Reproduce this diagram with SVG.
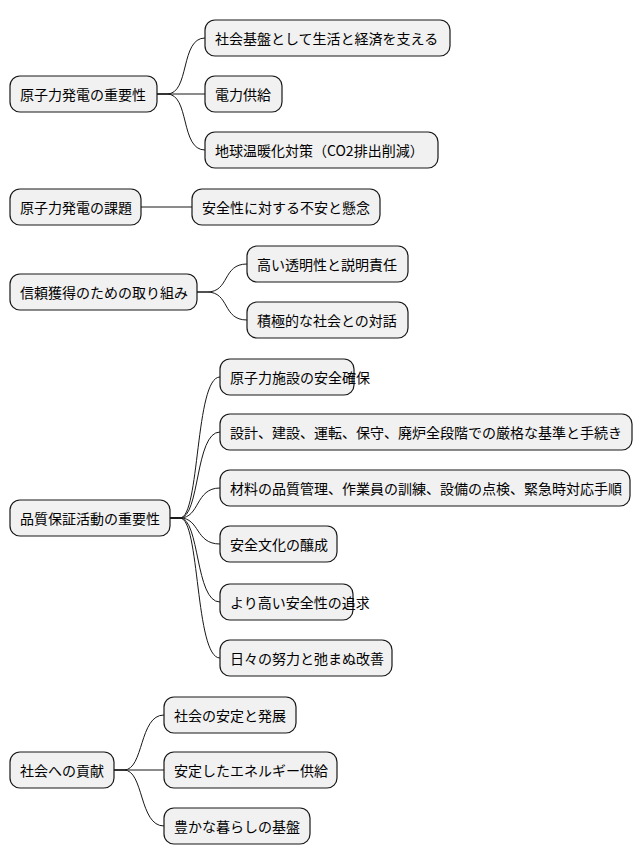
<svg xmlns="http://www.w3.org/2000/svg" width="642" height="865" viewBox="0 0 642 865">
<style>
.n rect{fill:#f1f1f1;stroke:#181818;stroke-width:1.2}
.n text{font-family:"Noto Sans CJK JP","Noto Sans",sans-serif;font-size:14px;fill:#000;dominant-baseline:central}
#c path{fill:none;stroke:#181818;stroke-width:1}
</style>
<rect width="642" height="865" fill="#fff"/>
<g id="c">
<path d="M157,94 L167,94 C190,94 180,38 205,38"/>
<path d="M157,94 L205,94"/>
<path d="M157,94 L167,94 C190,94 180,150 205,150"/>
<path d="M141,207 L192,207"/>
<path d="M197,292 L207,292 C230,292 222,264 247,264"/>
<path d="M197,292 L207,292 C230,292 222,320 247,320"/>
<path d="M170,518 L180,518 C200,518 195,377 220,377"/>
<path d="M170,518 L180,518 C200,518 195,432 220,432"/>
<path d="M170,518 L180,518 C200,518 195,488 220,488"/>
<path d="M170,518 L180,518 C200,518 195,544 220,544"/>
<path d="M170,518 L180,518 C200,518 195,602 220,602"/>
<path d="M170,518 L180,518 C200,518 195,658 220,658"/>
<path d="M114,770 L124,770 C144,770 139,715 164,715"/>
<path d="M114,770 L164,770"/>
<path d="M114,770 L124,770 C144,770 139,826 164,826"/>
</g>
<g id="r1" class="n"><rect x="10" y="76" width="147" height="36" rx="10"/><text x="20" y="94">原子力発電の重要性</text></g>
<g id="r1a" class="n"><rect x="205" y="20" width="245" height="36" rx="10"/><text x="215" y="38">社会基盤として生活と経済を支える</text></g>
<g id="r1b" class="n"><rect x="205" y="76" width="77" height="36" rx="10"/><text x="215" y="94">電力供給</text></g>
<g id="r1c" class="n"><rect x="205" y="132" width="233" height="36" rx="10"/><text x="215" y="150">地球温暖化対策（CO2排出削減）</text></g>
<g id="r2" class="n"><rect x="10" y="189" width="131" height="36" rx="10"/><text x="20" y="207">原子力発電の課題</text></g>
<g id="r2a" class="n"><rect x="192" y="189" width="188" height="36" rx="10"/><text x="202" y="207">安全性に対する不安と懸念</text></g>
<g id="r3" class="n"><rect x="10" y="274" width="187" height="36" rx="10"/><text x="20" y="292">信頼獲得のための取り組み</text></g>
<g id="r3a" class="n"><rect x="247" y="246" width="161" height="36" rx="10"/><text x="257" y="264">高い透明性と説明責任</text></g>
<g id="r3b" class="n"><rect x="247" y="302" width="161" height="36" rx="10"/><text x="257" y="320">積極的な社会との対話</text></g>
<g id="r4" class="n"><rect x="10" y="500" width="160" height="36" rx="10"/><text x="20" y="518">品質保証活動の重要性</text></g>
<g id="r4a" class="n"><rect x="220" y="359" width="134" height="36" rx="10"/><text x="230" y="377">原子力施設の安全確保</text></g>
<g id="r4b" class="n"><rect x="220" y="414" width="412" height="36" rx="10"/><text x="230" y="432">設計、建設、運転、保守、廃炉全段階での厳格な基準と手続き</text></g>
<g id="r4c" class="n"><rect x="220" y="470" width="410" height="36" rx="10"/><text x="230" y="488">材料の品質管理、作業員の訓練、設備の点検、緊急時対応手順</text></g>
<g id="r4d" class="n"><rect x="220" y="526" width="117" height="36" rx="10"/><text x="230" y="544">安全文化の醸成</text></g>
<g id="r4e" class="n"><rect x="220" y="584" width="133" height="36" rx="10"/><text x="230" y="602">より高い安全性の追求</text></g>
<g id="r4f" class="n"><rect x="220" y="640" width="172" height="36" rx="10"/><text x="230" y="658">日々の努力と弛まぬ改善</text></g>
<g id="r5" class="n"><rect x="10" y="752" width="104" height="36" rx="10"/><text x="20" y="770">社会への貢献</text></g>
<g id="r5a" class="n"><rect x="164" y="697" width="132" height="36" rx="10"/><text x="174" y="715">社会の安定と発展</text></g>
<g id="r5b" class="n"><rect x="164" y="752" width="173" height="36" rx="10"/><text x="174" y="770">安定したエネルギー供給</text></g>
<g id="r5c" class="n"><rect x="164" y="808" width="146" height="36" rx="10"/><text x="174" y="826">豊かな暮らしの基盤</text></g>
</svg>
